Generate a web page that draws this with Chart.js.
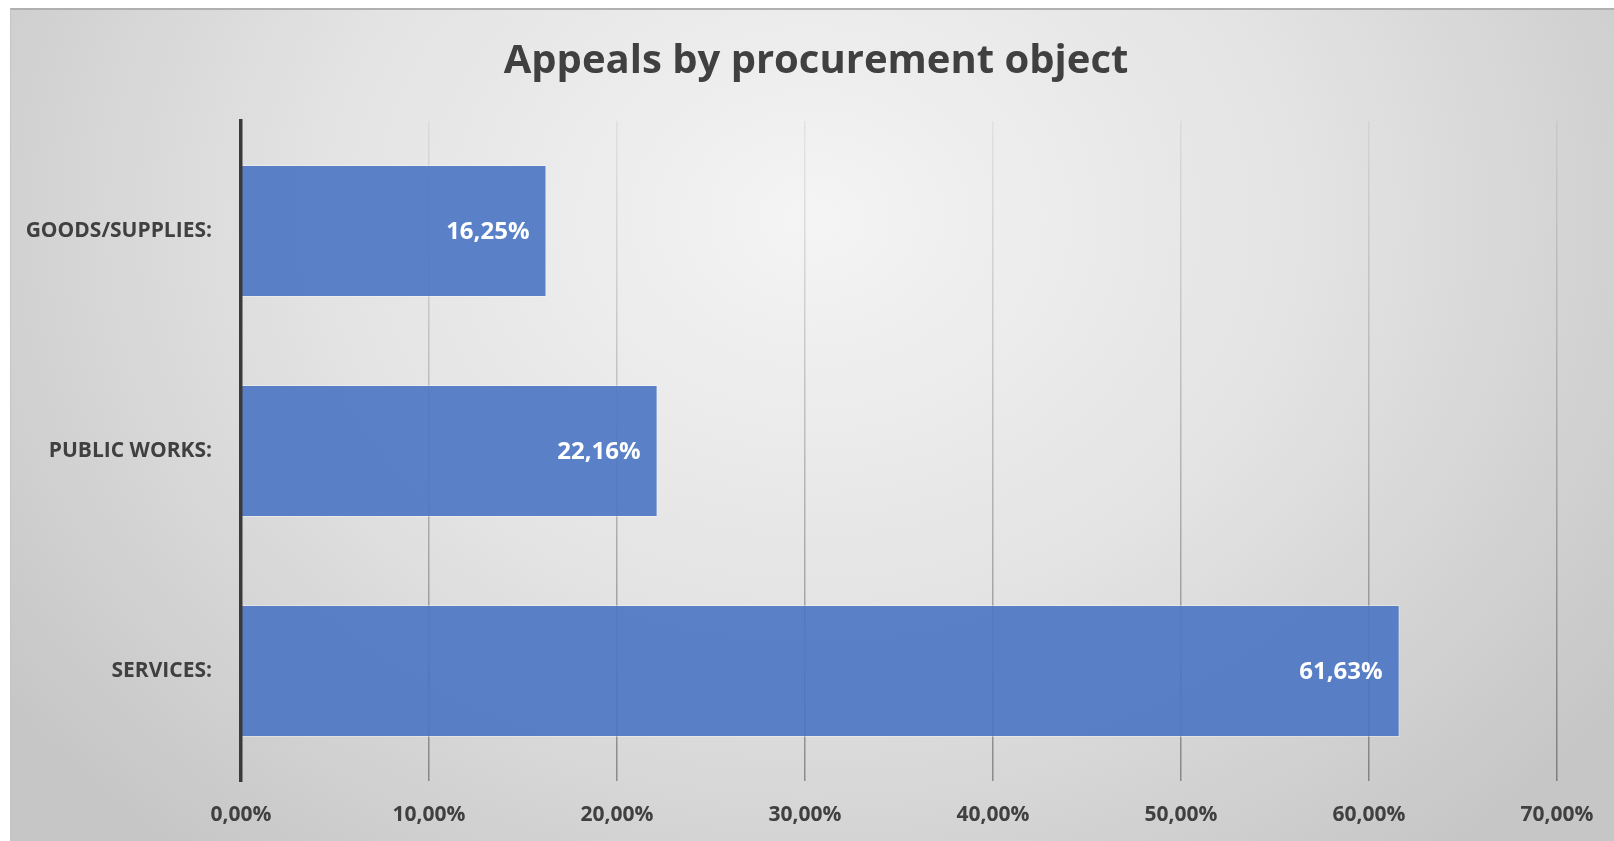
<!DOCTYPE html>
<html>
<head>
<meta charset="utf-8">
<title>Appeals by procurement object</title>
<script src="https://cdn.jsdelivr.net/npm/chart.js@4/dist/chart.umd.min.js"></script>
<style>
  html, body { margin: 0; padding: 0; background: #fff; overflow: hidden; }
  #panel {
    position: absolute;
    left: 10px;
    top: 8px;
    width: 1603px;
    height: 831px;
    border-top: 2px solid #b0b0b0;
    border-left: 1px solid #c4c4c4;
    background: radial-gradient(1000px 820px at 50% 25%, #f4f4f4 0%, #e3e3e3 50%, #c6c6c6 100%);
  }
  #appealsChart { display: block; }
</style>
</head>
<body>
<div id="panel">
  <canvas id="appealsChart" width="1603" height="831"></canvas>
</div>
<script>
// ===== DATA =====
const categories = ['GOODS/SUPPLIES:', 'PUBLIC WORKS:', 'SERVICES:'];
const shares = [16.25, 22.16, 61.63];
const axisTicks = [0, 10, 20, 30, 40, 50, 60, 70];

const FONT = '"Open Sans", "DejaVu Sans", sans-serif';
const TEXT = '#404040';

// 16.25 -> "16,25%"
function pct(v) {
  return v.toFixed(2).replace('.', ',') + '%';
}

// ===== VALUE LABELS INSIDE BAR ENDS =====
const barValueLabels = {
  id: 'barValueLabels',
  afterDatasetsDraw(chart) {
    const ctx = chart.ctx;
    const meta = chart.getDatasetMeta(0);
    ctx.save();
    ctx.font = 'bold 24px ' + FONT;
    ctx.fillStyle = '#ffffff';
    ctx.textAlign = 'right';
    ctx.textBaseline = 'middle';
    meta.data.forEach((bar, i) => {
      ctx.fillText(pct(chart.data.datasets[0].data[i]), bar.x - 17, bar.y + 1);
    });
    ctx.restore();
  }
};

// gridlines fade in towards the bottom of the plot
function gridColor(context) {
  const area = context.chart.chartArea;
  if (!area) return 'rgba(0,0,0,0.15)';
  const g = context.chart.ctx.createLinearGradient(0, area.top, 0, area.bottom);
  g.addColorStop(0, 'rgba(0,0,0,0.05)');
  g.addColorStop(1, 'rgba(0,0,0,0.36)');
  return g;
}

// ===== BAR CHART =====
function drawChart() {
  const ctx = document.getElementById('appealsChart').getContext('2d');
  new Chart(ctx, {
    type: 'bar',
    data: {
      labels: categories,
      datasets: [{
        data: shares,
        backgroundColor: 'rgba(74,116,196,0.9)',
        borderColor: 'rgba(255,255,255,0.35)',
        borderWidth: 1,
        barPercentage: 0.6,
        categoryPercentage: 1
      }]
    },
    options: {
      indexAxis: 'y',
      responsive: false,
      animation: false,
      layout: { padding: { left: 7, right: 0, top: 0, bottom: 0 } },
      plugins: {
        legend: { display: false },
        tooltip: { enabled: false },
        title: {
          display: true,
          text: 'Appeals by procurement object',
          color: TEXT,
          font: { family: FONT, size: 40, weight: 'bold', lineHeight: 1.2 },
          padding: { top: 28, bottom: 35 }
        }
      },
      scales: {
        x: {
          min: axisTicks[0],
          max: axisTicks[axisTicks.length - 1],
          afterBuildTicks: (axis) => { axis.ticks = axisTicks.map(v => ({ value: v })); },
          // fixed axis band height and room on the right of the plot
          afterFit: (axis) => { axis.height = 60; axis.paddingRight = 57; },
          border: { display: false },
          grid: { color: gridColor, lineWidth: 1.5, drawTicks: false },
          ticks: {
            padding: 21,
            color: TEXT,
            font: { family: FONT, size: 21, weight: 'bold' },
            callback: (value) => pct(value)
          }
        },
        y: {
          afterFit: (axis) => { axis.width = 223; },
          // axis line sits on top of the bars' left edges
          border: { display: true, color: '#3a3a3a', width: 3.5, z: 1 },
          grid: { display: false, drawTicks: false },
          ticks: {
            padding: 29,
            color: TEXT,
            font: { family: FONT, size: 21, weight: 'bold' }
          }
        }
      }
    },
    plugins: [barValueLabels]
  });
}

document.fonts.load('bold 21px "Open Sans"').then(drawChart, drawChart);
</script>
</body>
</html>
